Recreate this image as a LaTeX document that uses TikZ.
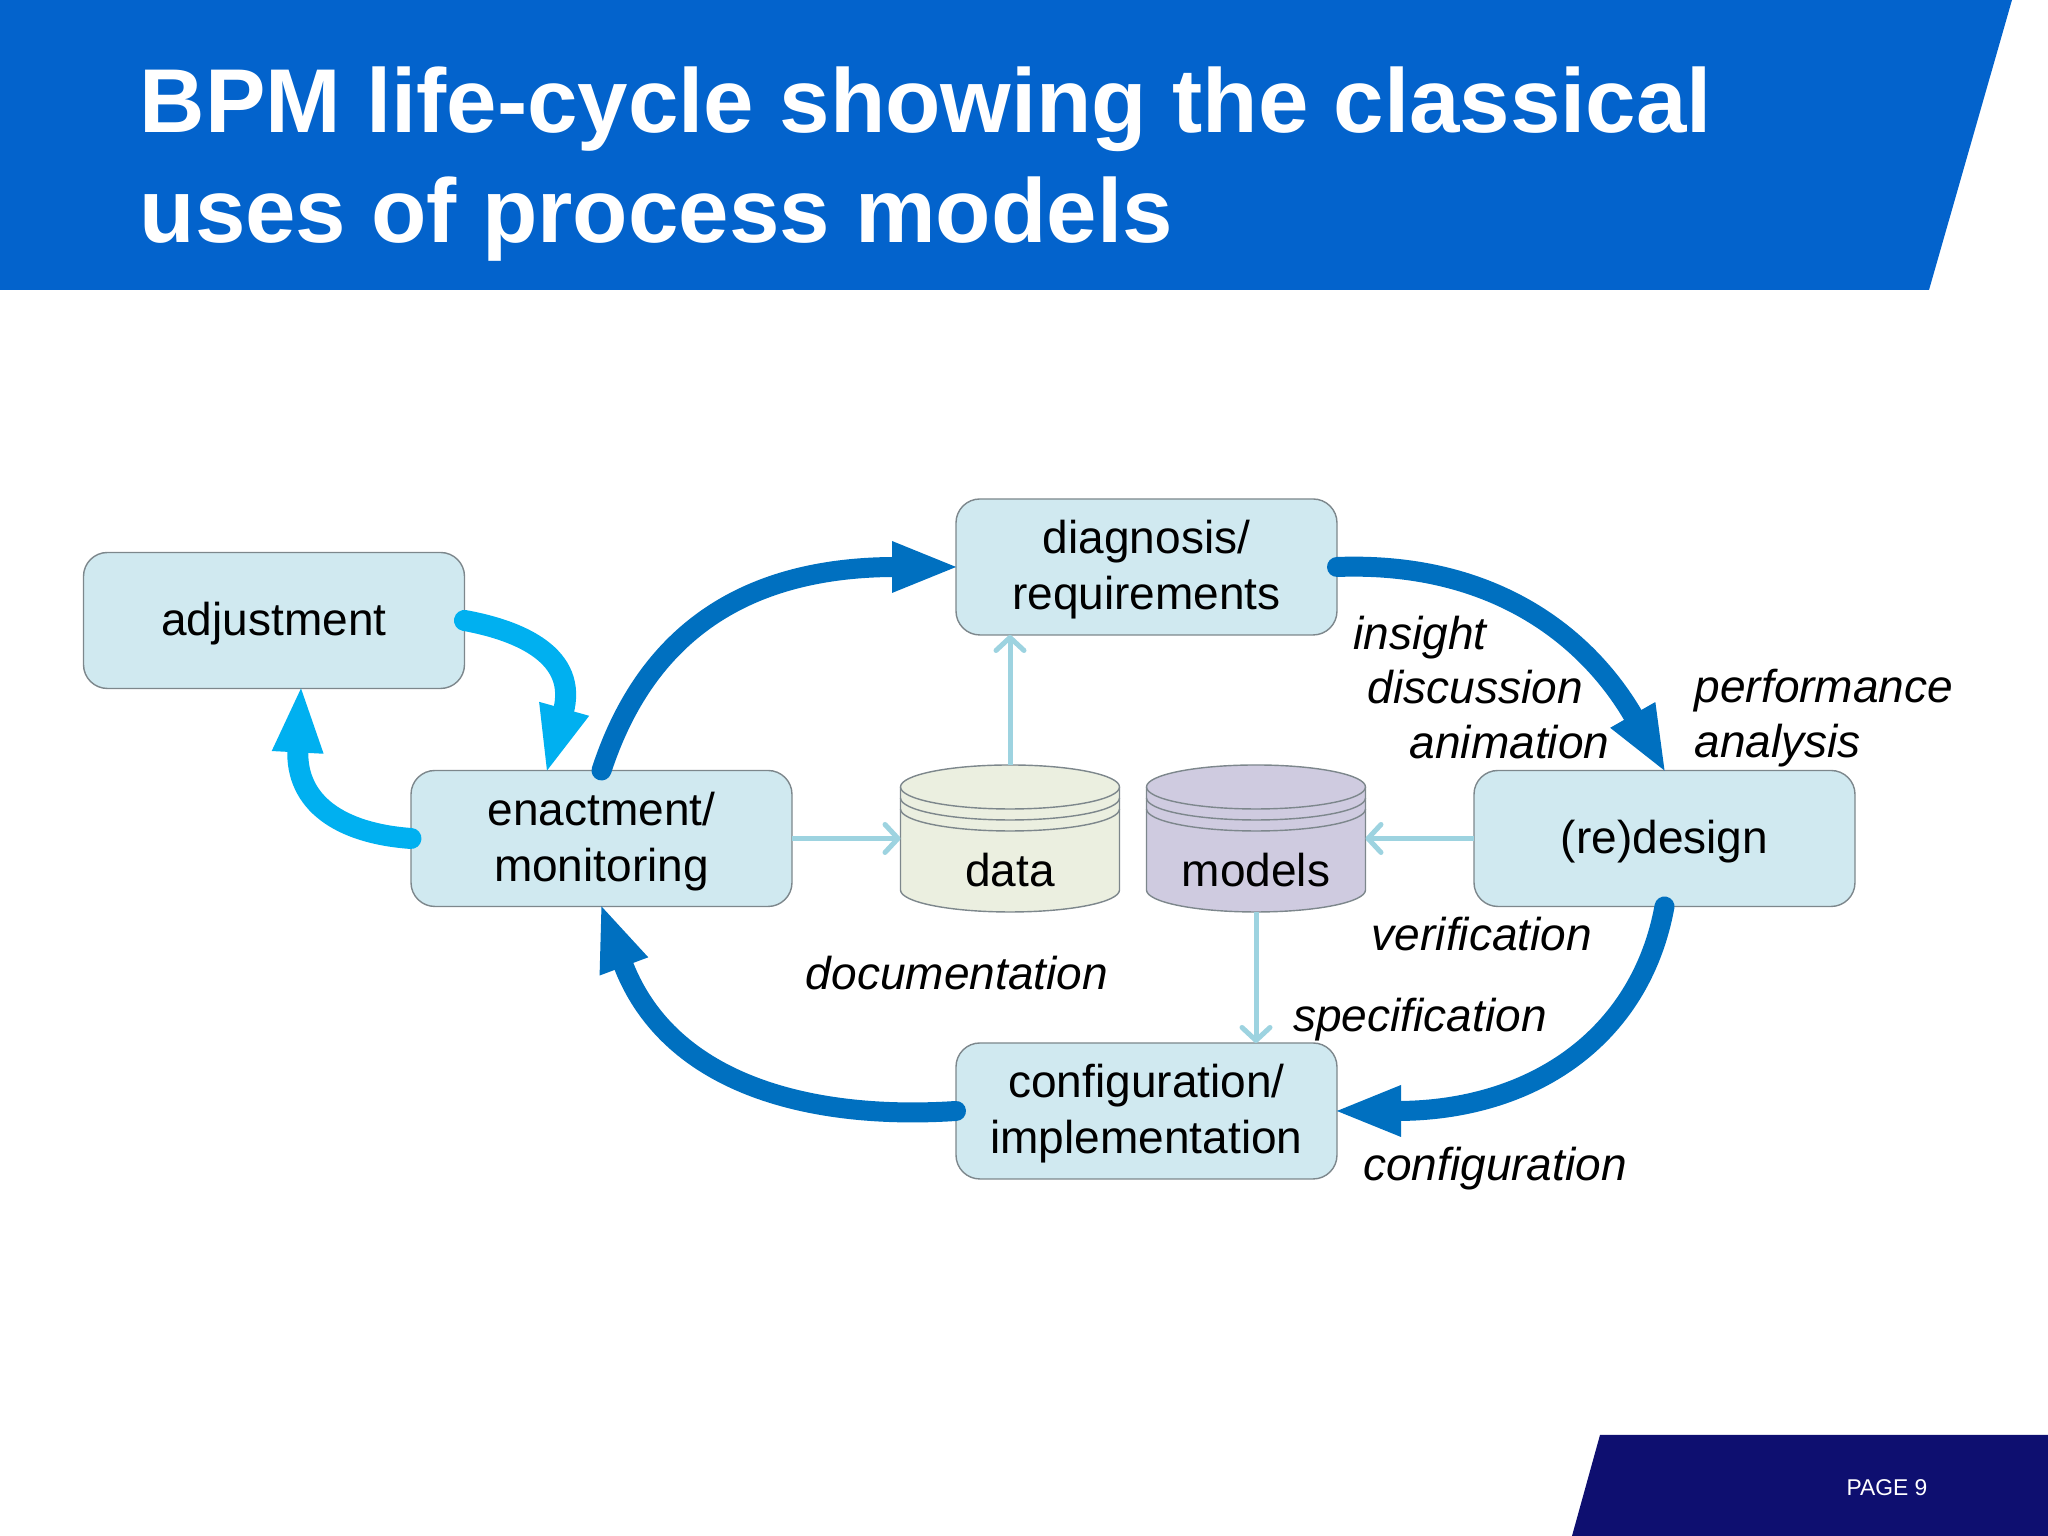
\documentclass[tikz,border=0pt]{standalone}
\usepackage{fontspec}
\setmainfont{Liberation Sans}
\usetikzlibrary{arrows.meta}

\definecolor{bannerblue}{RGB}{3,99,204}
\definecolor{footerblue}{RGB}{14,15,112}
\definecolor{boxfill}{RGB}{208,233,240}
\definecolor{boxline}{RGB}{125,135,140}
\definecolor{datafill}{RGB}{235,239,224}
\definecolor{modelfill}{RGB}{207,203,224}
\definecolor{flowdark}{RGB}{0,112,192}
\definecolor{flowlight}{RGB}{0,176,240}
\definecolor{thinline}{RGB}{157,211,224}

\tikzset{
	box/.style={draw=boxline, line width=.4pt, fill=boxfill, rounded corners=6.8pt, minimum width=3.81cm, minimum height=1.36cm, inner sep=0pt, outer sep=0pt, align=center, font=\fontsize{13.1}{15.9}\selectfont, execute at begin node={\rule{0pt}{#1}}},
	box/.default=11pt,
	db/.style={minimum width=2.19cm, minimum height=1.47cm, inner sep=0pt, outer sep=0pt},
	dbtext/.style={font=\fontsize{13.1}{15.6}\selectfont, inner sep=0pt},
	use/.style={font=\fontsize{13.1}{15.6}\selectfont\itshape, inner sep=0pt},
	flow/.style={line width=.2cm, line cap=round, shorten >=-.04cm, -{Triangle[length=.68cm,width=.46cm]}},
	access/.style={draw=thinline, line width=.05cm, -{Straight Barb[round,length=.13cm,width=.28cm]}},
}

\begin{document}
\begin{tikzpicture}
	\useasboundingbox (0,0) rectangle (20.48,15.36);

	% Draw the banner and the footer
	\fill[bannerblue] (0,15.36) -- (20.12,15.36) -- (19.29,12.46) -- (0,12.46) -- cycle;
	\fill[footerblue] (16.00,1.01) -- (20.48,1.01) -- (20.48,0) -- (15.72,0) -- cycle;
	\node[text=white, font=\fontsize{25.8}{31.2}\selectfont\bfseries, align=left, anchor=north west, inner sep=0pt] (title) at (1.39,14.70) {BPM life-cycle showing the classical\\uses of process models};
	\node[text=white, font=\fontsize{6.5}{7.5}\selectfont, inner sep=0pt] (page) at (18.87,.48) {PAGE 9};

	% Draw the life-cycle boxes
	\node[box] (adjust) at (2.74,9.155) {adjustment};
	\node[box=27pt] (enact) at (6.015,6.975) {enactment/\\monitoring};
	\node[box=27pt] (diag) at (11.465,9.69) {diagnosis/\\requirements};
	\node[box] (redesign) at (16.645,6.975) {(re)design};
	\node[box=27pt] (config) at (11.465,4.25) {configuration/\\implementation};

	% Draw the two stores
	\node[db] (data) at (10.10,6.975) {};
	\node[db] (models) at (12.56,6.975) {};
	\foreach \n/\c in {data/datafill,models/modelfill} {
	\draw[boxline, line width=.4pt, fill=\c] ([shift={(-1.095,.515)}]\n.center) arc[start angle=180, end angle=0, x radius=1.095, y radius=.22] -- ++(0,-1.03) arc[start angle=0, end angle=-180, x radius=1.095, y radius=.22] -- cycle;
	\foreach \y in {.515,.405,.295}
	\draw[boxline, line width=.4pt] ([shift={(-1.095,\y)}]\n.center) arc[start angle=180, end angle=360, x radius=1.095, y radius=.22];
	}
	\node[dbtext] (datatext) at (10.10,6.66) {data};
	\node[dbtext] (modelstext) at (12.56,6.66) {models};

	% Draw the thin arrows
	\draw[access] (enact) -- (data);
	\draw[access] (redesign) -- (models);
	\draw[access] (data.north) -- (data.north |- diag.south);
	\draw[access] (models.south) -- (models.south |- config.north);

	% Draw the main cycle
	\draw[flow, flowdark] (enact.north) .. controls +(.49,1.5) and +(-1.96,0) .. (diag.west);
	\draw[flow, flowdark] (diag.east) .. controls +(1.6,.06) and +(-.745,1.305) .. (redesign.north);
	\draw[flow, flowdark] (redesign.south) .. controls +(-.245,-1.33) and +(1.93,0) .. (config.east);
	\draw[flow, flowdark] (config.west) .. controls +(-1.36,-.09) and +(.685,-1.83) .. (enact.south);

	% Draw the adjustment loop
	\draw[flow, flowlight, line width=.21cm] (adjust.east) .. controls +(.55,-.1) and +(.32,1.15) .. ([xshift=-.545cm]enact.north);
	\draw[flow, flowlight, line width=.21cm] (enact.west) .. controls +(-.7,.05) and +(-.06,-1.15) .. ([xshift=.27cm]adjust.south);

	% Label the uses of the models
	\node[use, anchor=west] (insight) at (13.53,8.98) {insight};
	\node[use, anchor=west] (discussion) at (13.67,8.49) {discussion};
	\node[use, anchor=west] (animation) at (14.09,7.94) {animation};
	\node[use, anchor=west, align=left] (perf) at (16.94,8.18) {performance\\analysis};
	\node[use] (verif) at (14.82,6.02) {verification};
	\node[use] (doc) at (9.57,5.63) {documentation};
	\node[use] (spec) at (14.20,5.16) {specification};
	\node[use] (configuse) at (14.95,3.67) {configuration};
\end{tikzpicture}
\end{document}
